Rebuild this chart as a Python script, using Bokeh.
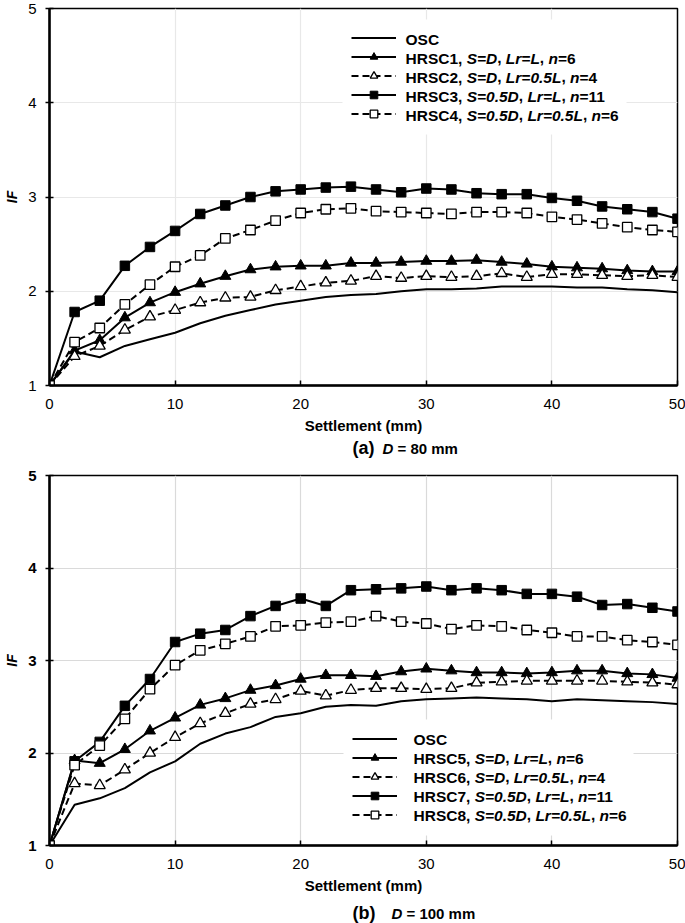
from bokeh.plotting import figure
from bokeh.models import Legend, LegendItem, Label, FixedTicker, Range1d, BoxAnnotation
from bokeh.layouts import column
from bokeh.embed import file_html
from bokeh.resources import INLINE

# ---------------- data ----------------
settlement = list(range(0, 51, 2))

# (a) D = 80 mm
osc_a = [1.00, 1.36, 1.30, 1.42, 1.49, 1.56, 1.66, 1.74, 1.80, 1.86, 1.90, 1.94, 1.96,
         1.97, 2.00, 2.02, 2.02, 2.03, 2.05, 2.05, 2.05, 2.04, 2.04, 2.02, 2.01, 1.99]
hrsc1 = [1.00, 1.37, 1.48, 1.72, 1.88, 1.99, 2.08, 2.16, 2.23, 2.26, 2.27, 2.27, 2.30,
         2.30, 2.31, 2.32, 2.32, 2.33, 2.31, 2.29, 2.26, 2.25, 2.24, 2.22, 2.21, 2.21]
hrsc2 = [1.00, 1.31, 1.42, 1.59, 1.73, 1.80, 1.88, 1.93, 1.94, 2.01, 2.05, 2.09, 2.11,
         2.16, 2.14, 2.16, 2.15, 2.16, 2.19, 2.15, 2.18, 2.18, 2.17, 2.16, 2.17, 2.15]
hrsc3 = [1.00, 1.78, 1.90, 2.27, 2.47, 2.64, 2.82, 2.91, 3.00, 3.06, 3.08, 3.10, 3.11,
         3.08, 3.05, 3.09, 3.08, 3.04, 3.03, 3.03, 2.99, 2.96, 2.90, 2.87, 2.84, 2.77]
hrsc4 = [1.00, 1.46, 1.61, 1.86, 2.07, 2.26, 2.38, 2.56, 2.65, 2.75, 2.83, 2.87, 2.88,
         2.85, 2.84, 2.83, 2.82, 2.84, 2.84, 2.83, 2.79, 2.76, 2.72, 2.68, 2.65, 2.63]

# (b) D = 100 mm
osc_b = [1.00, 1.44, 1.51, 1.62, 1.79, 1.91, 2.10, 2.21, 2.28, 2.39, 2.43, 2.50, 2.52,
         2.51, 2.56, 2.58, 2.59, 2.60, 2.59, 2.58, 2.56, 2.58, 2.57, 2.56, 2.55, 2.53]
hrsc5 = [1.00, 1.92, 1.89, 2.04, 2.24, 2.38, 2.52, 2.59, 2.68, 2.73, 2.80, 2.84, 2.84,
         2.83, 2.88, 2.91, 2.89, 2.87, 2.87, 2.86, 2.87, 2.89, 2.89, 2.86, 2.85, 2.81]
hrsc6 = [1.00, 1.67, 1.65, 1.82, 2.00, 2.17, 2.32, 2.43, 2.53, 2.58, 2.67, 2.62, 2.68,
         2.70, 2.70, 2.69, 2.70, 2.76, 2.77, 2.78, 2.78, 2.78, 2.78, 2.77, 2.76, 2.74]
hrsc7 = [1.00, 1.91, 2.12, 2.51, 2.80, 3.20, 3.29, 3.33, 3.48, 3.59, 3.67, 3.59, 3.76,
         3.77, 3.78, 3.80, 3.76, 3.78, 3.76, 3.72, 3.72, 3.69, 3.60, 3.61, 3.57, 3.53]
hrsc8 = [1.00, 1.87, 2.08, 2.37, 2.69, 2.95, 3.11, 3.18, 3.26, 3.37, 3.38, 3.41, 3.42,
         3.48, 3.42, 3.40, 3.34, 3.38, 3.37, 3.33, 3.30, 3.26, 3.26, 3.22, 3.20, 3.17]

labels_a = ["OSC",
            "HRSC1, *S=D*, *Lr=L*, *n*=6",
            "HRSC2, *S=D*, *Lr=0.5L*, *n*=4",
            "HRSC3, *S=0.5D*, *Lr=L*, *n*=11",
            "HRSC4, *S=0.5D*, *Lr=0.5L*, *n*=6"]
labels_b = ["OSC",
            "HRSC5, *S=D*, *Lr=L*, *n*=6",
            "HRSC6, *S=D*, *Lr=0.5L*, *n*=4",
            "HRSC7, *S=0.5D*, *Lr=L*, *n*=11",
            "HRSC8, *S=0.5D*, *Lr=0.5L*, *n*=6"]

x_ticks = [0, 10, 20, 30, 40, 50]
y_ticks = [1, 2, 3, 4, 5]

FONT = "Liberation Sans"
FIG_W = 685

# Arial/Liberation Sans Bold advance widths (per 1000 em)
W = {' ': 278, '(': 333, ')': 333, ',': 278, '.': 278, '=': 584,
     'C': 722, 'D': 722, 'H': 722, 'L': 611, 'O': 778, 'R': 722, 'S': 667,
     'a': 556, 'b': 611, 'm': 889, 'n': 611, 'r': 389}


def tw(s, size):
    return sum(W.get(c, 556) for c in s) * size / 1000.0


def rich(p, x, y, label, size, baseline="middle"):
    parts = label.split("*")
    cx = x
    for i, part in enumerate(parts):
        if part.strip():
            lead = len(part) - len(part.lstrip())
            p.add_layout(Label(x=cx + tw(part[:lead], size), y=y,
                               x_units="screen", y_units="screen",
                               text=part.strip(), text_font=FONT,
                               text_font_size=f"{size}px",
                               text_font_style="bold italic" if i % 2 else "bold",
                               text_color="black", text_baseline=baseline,
                               text_align="left"))
        cx += tw(part, size)


def make_panel(height, border_top, border_bottom, series, labels, grid_color,
               ytick_bold, leg_xy, text_x, text_top, box):
    p = figure(width=FIG_W, height=height, output_backend="svg", toolbar_location=None,
               x_range=Range1d(0, 50), y_range=Range1d(1, 5),
               min_border_left=49, min_border_right=8,
               min_border_top=border_top, min_border_bottom=border_bottom)
    p.background_fill_color = "white"
    p.border_fill_color = "white"
    p.outline_line_color = "black"
    p.outline_line_width = 1.5

    p.xaxis.ticker = FixedTicker(ticks=x_ticks)
    p.yaxis.ticker = FixedTicker(ticks=y_ticks)
    p.xaxis.minor_tick_line_color = None
    p.yaxis.minor_tick_line_color = None
    for ax in (p.xaxis[0], p.yaxis[0]):
        ax.axis_line_width = 2.5
        ax.axis_line_color = "black"
        ax.major_tick_line_color = "black"
        ax.major_tick_line_width = 1.5
        ax.major_label_text_font = FONT
        ax.major_label_text_font_size = "15px"
        ax.major_label_text_color = "black"
        ax.axis_label_text_font = FONT
        ax.axis_label_text_color = "black"
    p.xaxis.major_tick_in = 5
    p.xaxis.major_tick_out = 0
    p.yaxis.major_tick_in = 4
    p.yaxis.major_tick_out = 4
    p.xaxis.major_label_standoff = 13
    p.yaxis.major_label_standoff = 9
    p.xaxis.axis_label = "Settlement (mm)"
    p.xaxis.axis_label_text_font_style = "bold"
    p.xaxis.axis_label_text_font_size = "15px"
    p.xaxis.axis_label_standoff = 5
    p.yaxis.axis_label = "IF"
    p.yaxis.axis_label_text_font_style = "bold italic"
    p.yaxis.axis_label_text_font_size = "14px"
    p.yaxis.axis_label_standoff = 5
    p.yaxis.major_label_text_font_style = "bold" if ytick_bold else "normal"

    p.xgrid.grid_line_color = grid_color
    p.ygrid.grid_line_color = grid_color
    p.xgrid.grid_line_width = 1.2
    p.ygrid.grid_line_width = 1.2

    # white background behind the legend (covers grid lines)
    bl, br, bb, bt = box
    p.add_layout(BoxAnnotation(left=bl, right=br, bottom=bb, top=bt,
                               left_units="screen", right_units="screen",
                               bottom_units="screen", top_units="screen",
                               fill_color="white", fill_alpha=1.0, line_color=None,
                               level="underlay"))

    osc, s1, s2, s3, s4 = series
    r_osc = p.line(settlement, osc, line_color="black", line_width=2)
    l1 = p.line(settlement, s1, line_color="black", line_width=2)
    m1 = p.scatter(settlement, s1, marker="triangle", size=11, fill_color="black",
                   line_color="black", line_width=1)
    l2 = p.line(settlement, s2, line_color="black", line_width=2, line_dash="7 4")
    m2 = p.scatter(settlement, s2, marker="triangle", size=11, fill_color="white",
                   line_color="black", line_width=1.3)
    l3 = p.line(settlement, s3, line_color="black", line_width=2)
    m3 = p.scatter(settlement, s3, marker="square", size=9.5, fill_color="black",
                   line_color="black", line_width=1)
    l4 = p.line(settlement, s4, line_color="black", line_width=2, line_dash="7 4")
    m4 = p.scatter(settlement, s4, marker="square", size=9.5, fill_color="white",
                   line_color="black", line_width=1.3)

    pad, gh = 10, 19
    items = [LegendItem(label=" ", renderers=[r_osc]),
             LegendItem(label=" ", renderers=[l1, m1]),
             LegendItem(label=" ", renderers=[l2, m2]),
             LegendItem(label=" ", renderers=[l3, m3]),
             LegendItem(label=" ", renderers=[l4, m4])]
    leg = Legend(items=items, location=leg_xy, padding=pad, spacing=0, margin=0,
                 glyph_width=45, glyph_height=gh, label_height=gh, label_width=20,
                 label_standoff=10, label_text_font_size="12px",
                 border_line_color=None, background_fill_alpha=0.0)
    p.add_layout(leg)
    for i, lab in enumerate(labels):
        rich(p, text_x, text_top - gh * i, lab, 15.5)
    return p


def caption(height, x1, x2, mid_y, letter, rest):
    c = figure(width=FIG_W, height=height, output_backend="svg", toolbar_location=None,
               x_axis_type=None, y_axis_type=None,
               x_range=Range1d(0, FIG_W), y_range=Range1d(0, height),
               min_border=0, min_border_left=0, min_border_right=0,
               min_border_top=0, min_border_bottom=0)
    c.outline_line_color = None
    c.background_fill_color = "white"
    c.border_fill_color = "white"
    c.add_layout(Label(x=x1, y=mid_y, x_units="screen", y_units="screen",
                       text=letter, text_font=FONT, text_font_size="18px",
                       text_font_style="bold", text_color="black",
                       text_baseline="middle"))
    rich(c, x2, mid_y - 0.5, rest, 15, baseline="middle")
    return c


# frame-relative legend text rows (y measured up from frame bottom)
p1 = make_panel(436, 8, 50, (osc_a, hrsc1, hrsc2, hrsc3, hrsc4), labels_a, "#e8e8e8",
                False, (302, 262), 356, 346.5, (293, 577, 251, 366))
p2 = make_panel(438, 17, 50, (osc_b, hrsc5, hrsc6, hrsc7, hrsc8), labels_b, "#dadada",
                True, (303, 21), 364, 106.5, (294, 584, 10, 126))
c1 = caption(22, 303, 333, 11, "(a)", "*D* = 80 mm")
c2 = caption(27, 303, 342, 11, "(b)", "*D* = 100 mm")

layout = column(p1, c1, p2, c2, spacing=0)
open("out.html", "w").write(file_html(layout, INLINE))
